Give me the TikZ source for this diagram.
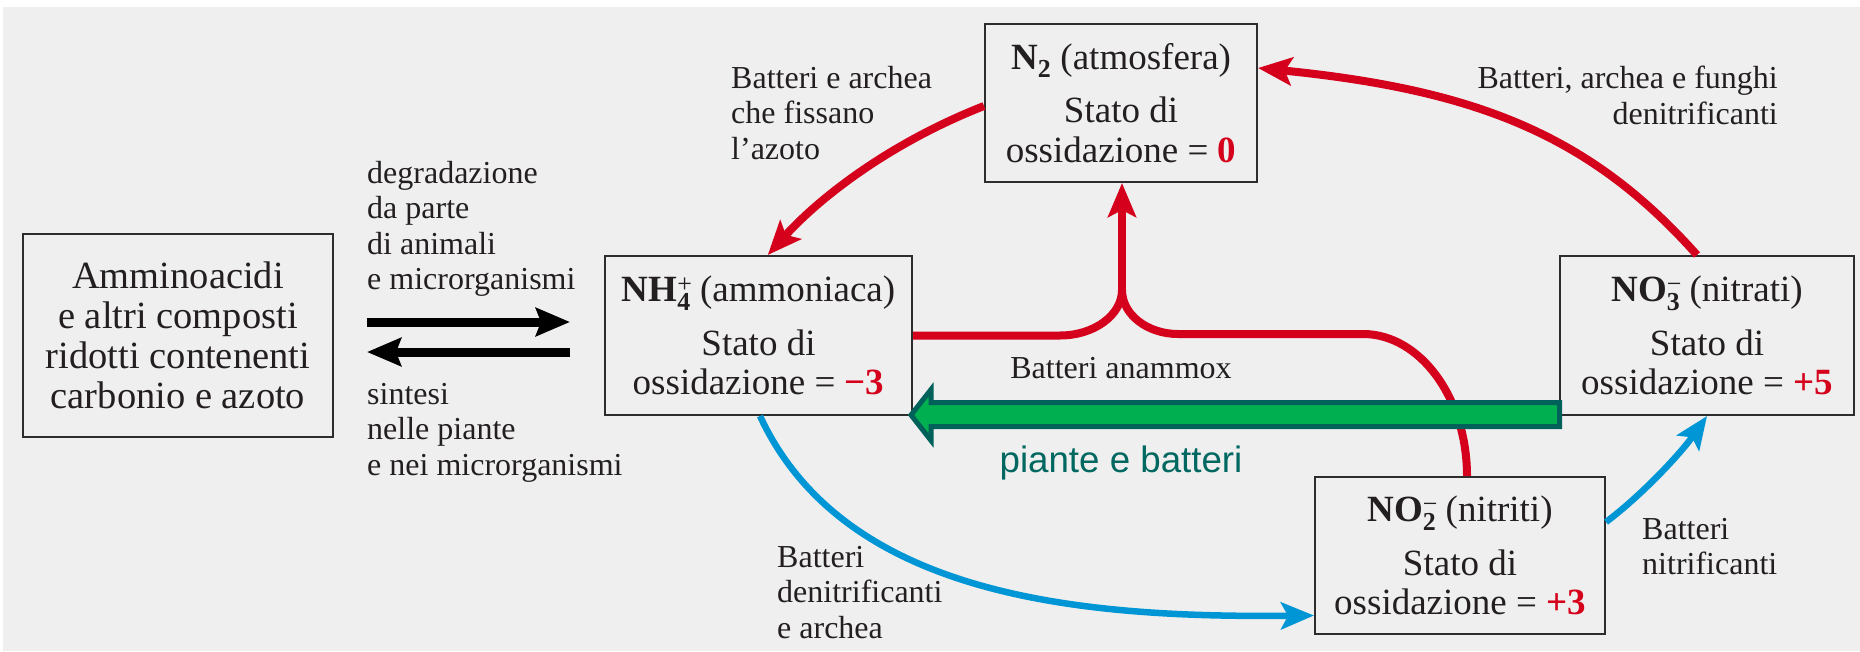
\documentclass[tikz,border=0pt]{standalone}
\usepackage{fontspec}
\setmainfont{Liberation Serif}
\newfontfamily\arialf{Liberation Sans}
\usetikzlibrary{arrows.meta,calc}
\definecolor{bgC}{RGB}{239,239,239}
\definecolor{txtC}{RGB}{35,31,32}
\definecolor{boxC}{RGB}{45,45,45}
\definecolor{redC}{RGB}{213,0,27}
\definecolor{blueC}{RGB}{0,150,214}
\definecolor{greenF}{RGB}{0,176,80}
\definecolor{tealC}{RGB}{0,96,90}
\definecolor{tealT}{RGB}{0,104,96}
\begin{document}
\begin{tikzpicture}[x=1pt,y=-1pt,
  box/.style={draw=boxC, line width=2pt, align=center, inner sep=0pt, text=txtC,
    font=\fontsize{37}{39.5}\selectfont},
  lbl/.style={inner sep=0pt, text=txtC, font=\fontsize{32}{35.5}\selectfont},
  redline/.style={draw=redC, line width=8pt},
  redarr/.style={redline, -{Stealth[length=34pt,width=28pt,inset=7pt]}},
  bluearr/.style={draw=blueC, line width=6.5pt, -{Stealth[length=33pt,width=27pt,inset=7pt]}},
  blackarr/.style={draw=black, line width=9pt, -{Stealth[length=34pt,width=28pt,inset=5pt]}},
  greenarr/.style={draw=tealC, line width=5pt, fill=greenF, line join=miter}
]
\useasboundingbox (0,0) rectangle (1860,651);
\fill[bgC] (3,7) rectangle (1860,651);

% boxes
\node[box, minimum width=310pt, minimum height=203pt, font=\fontsize{38.5}{40}\selectfont] (amm) at (178,335.5)
  {Amminoacidi\\e altri composti\\ridotti contenenti\\carbonio e azoto};
\node[box, minimum width=307pt, minimum height=159pt] (nh4) at (758.5,335.5)
  {\textbf{NH}\makebox[0pt][l]{\textsuperscript{+}}\textsubscript{\textbf{4}}\ (ammoniaca)\\[14pt]
   Stato di\\ossidazione = \textcolor{redC}{\textbf{−3}}};
\node[box, minimum width=272pt, minimum height=158pt] (n2) at (1121,103)
  {\textbf{N\textsubscript{2}} (atmosfera)\\[14pt]
   Stato di\\ossidazione = \textcolor{redC}{\textbf{0}}};
\node[box, minimum width=294pt, minimum height=159pt] (no3) at (1707,335.5)
  {\textbf{NO}\makebox[0pt][l]{\textsuperscript{−}}\textsubscript{\textbf{3}}\ (nitrati)\\[14pt]
   Stato di\\ossidazione = \textcolor{redC}{\textbf{+5}}};
\node[box, minimum width=290pt, minimum height=157pt] (no2) at (1460,555.5)
  {\textbf{NO}\makebox[0pt][l]{\textsuperscript{−}}\textsubscript{\textbf{2}}\ (nitriti)\\[14pt]
   Stato di\\ossidazione = \textcolor{redC}{\textbf{+3}}};

% labels
\node[lbl, align=left, anchor=north west] (ldeg) at (367,161)
  {degradazione\\da parte\\di animali\\e microrganismi};
\node[lbl, align=left, anchor=north west] (lsin) at (367,383)
  {sintesi\\nelle piante\\e nei microrganismi};
\node[lbl, align=left, anchor=north west] (lfix) at (731,66)
  {Batteri e archea\\che fissano\\l’azoto};
\node[lbl, align=right, anchor=north east] (lden) at (1778,66)
  {Batteri, archea e funghi\\denitrificanti};
\node[lbl, anchor=base] (lana) at (1121,378) {Batteri anammox};
\node[inner sep=0pt, anchor=base, text=tealT, font=\arialf\fontsize{36.7}{40}\selectfont] (lpb) at (1121,472) {piante e batteri};
\node[lbl, align=left, anchor=north west] (ldn2) at (777,546)
  {Batteri\\denitrificanti\\e archea};
\node[lbl, align=left, anchor=north west] (lnit) at (1642,518)
  {Batteri\\nitrificanti};

% black arrows
\draw[blackarr] ($(amm.east)+(33,-13.5)$) -- ($(nh4.west)+(-34,-13.5)$);
\draw[blackarr] ($(nh4.west)+(-34,16.5)$) -- ($(amm.east)+(33,16.5)$);

% red arrows
\draw[redarr] ($(n2.west)+(0,3)$) .. controls (892,142) and (821,196) .. ($(nh4.north west)!0.53!(nh4.north east)$);
\draw[redarr] ($(no3.north)+(-10,0)$) .. controls (1591,136) and (1478,90) .. ($(n2.east)+(0,-35)$);

% anammox
\coordinate (j) at (1122,290);
\draw[redline] (nh4.east) -- (1060,335.5) .. controls (1094,335.5) and (1122,315) .. (j);
\draw[redline] ($(no2.north)+(7,0)$) .. controls (1467,398) and (1420,334) .. (1363,334)
  -- (1178,334) .. controls (1148,334) and (1122,315) .. (j);
\draw[redarr] ($(j)+(0,6)$) -- (j |- n2.south);

% blue arrows
\draw[bluearr] ($(nh4.south)+(1.5,0)$) .. controls (844,597) and (1080,618) .. ($(no2.west)+(0,60)$);
\draw[bluearr] ($(no2.east)+(0,-33.5)$) .. controls (1642,495) and (1681,453) .. (no3.south);

% green arrow
\draw[greenarr] ($(nh4.south east)+(-2,-1)$) -- ++(20,-25.5) -- ++(0,13) -- ++(628.5,0)
  -- ++(0,24) -- ++(-628.5,0) -- ++(0,14) -- cycle;
\end{tikzpicture}
\end{document}
